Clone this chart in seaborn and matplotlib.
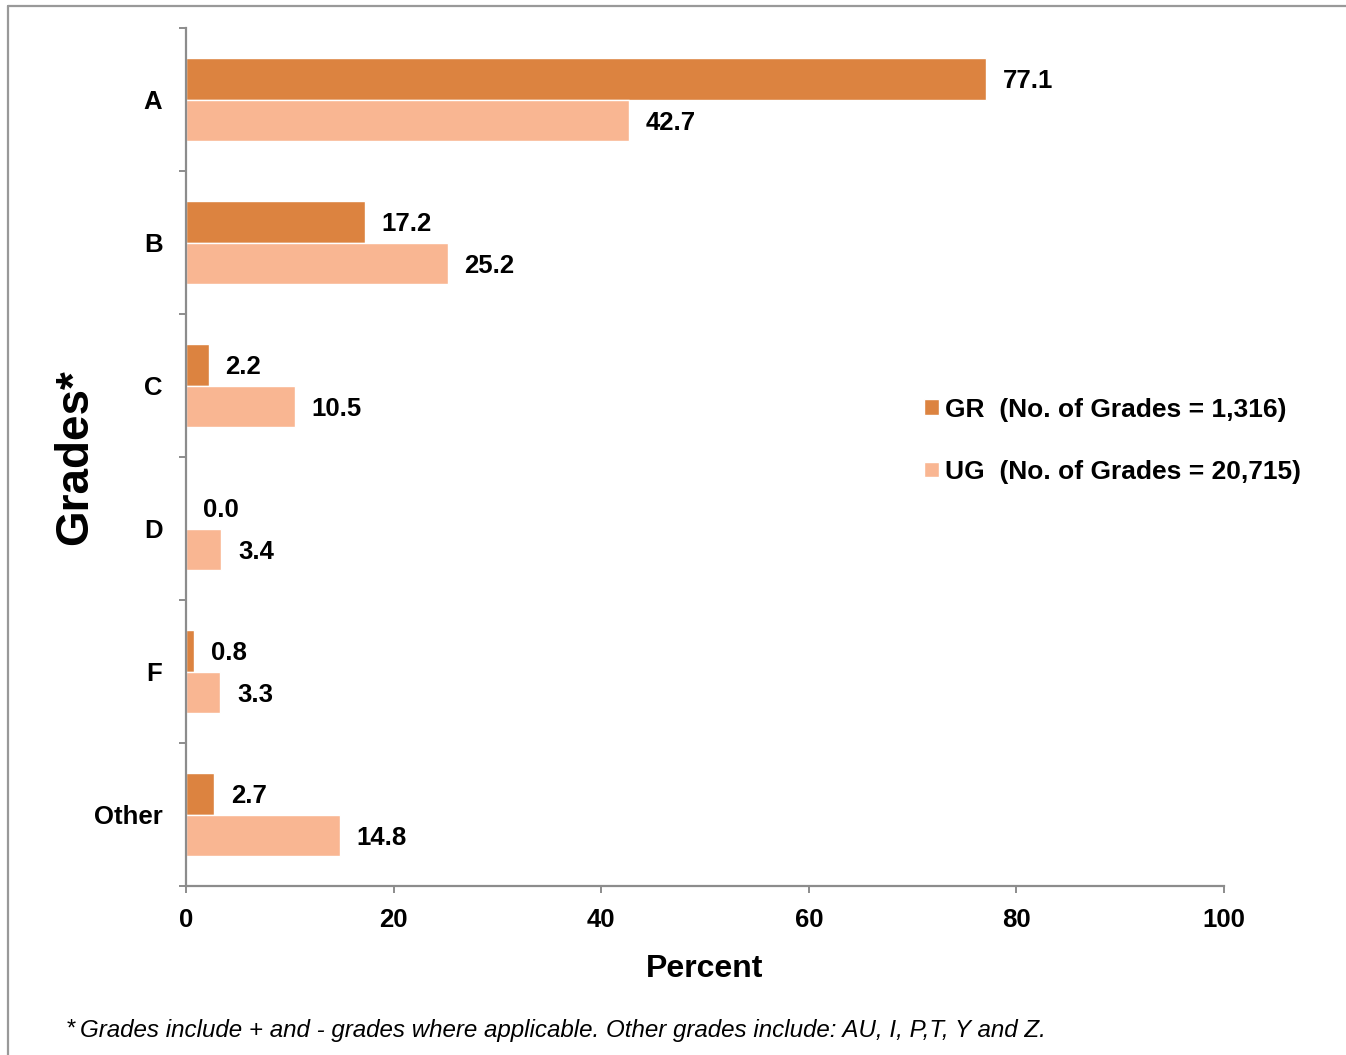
import matplotlib
matplotlib.use("Agg")
import matplotlib.pyplot as plt
from matplotlib.lines import Line2D
from matplotlib.ticker import FixedLocator, NullFormatter
import seaborn as sns
import pandas as pd

# data
grades = ['A', 'B', 'C', 'D', 'F', 'Other']
gr = [77.1, 17.2, 2.2, 0.0, 0.8, 2.7]
ug = [42.7, 25.2, 10.5, 3.4, 3.3, 14.8]
levels = ['GR', 'UG']
legend_labels = ['GR  (No. of Grades = 1,316)', 'UG  (No. of Grades = 20,715)']
colors = ['#DC8340', '#F9B692']

df = pd.DataFrame({
    'grade': grades * 2,
    'pct': gr + ug,
    'level': ['GR'] * len(grades) + ['UG'] * len(grades),
})

sns.set_style('white')
plt.rcParams['font.family'] = ['Liberation Sans', 'DejaVu Sans']
plt.rcParams['text.color'] = 'black'
plt.rcParams['axes.labelcolor'] = 'black'
plt.rcParams['xtick.labelcolor'] = 'black'
plt.rcParams['ytick.labelcolor'] = 'black'

fig = plt.figure(figsize=(13.46, 10.55), dpi=100)
ax = fig.add_axes([186 / 1346, 1 - 886 / 1055, (1224 - 186) / 1346, (886 - 28) / 1055])

sns.barplot(data=df, x='pct', y='grade', hue='level', hue_order=levels,
            order=grades, palette=colors, orient='h', width=0.574, gap=0,
            saturation=1, ax=ax, legend=True)

gray = '#8C8C8C'
for side in ['top', 'right']:
    ax.spines[side].set_visible(False)
for side in ['left', 'bottom']:
    ax.spines[side].set_color(gray)
    ax.spines[side].set_linewidth(1.6)

ax.set_xlim(0, 100)
ax.set_ylim(5.5, -0.5)
ax.set_xticks([0, 20, 40, 60, 80, 100])
ax.tick_params(axis='x', length=5, width=1.4, color=gray, pad=11,
               labelsize=18.5, labelcolor='black', direction='out', bottom=True)
for lab in ax.get_xticklabels():
    lab.set_fontweight('bold')

ax.yaxis.set_minor_locator(FixedLocator([i - 0.5 for i in range(len(grades) + 1)]))
ax.yaxis.set_minor_formatter(NullFormatter())
ax.tick_params(axis='y', which='minor', length=5, width=1.4, color=gray,
               direction='out', left=True)
ax.tick_params(axis='y', which='major', length=0, pad=17, labelsize=18.5,
               labelcolor='black')
for lab in ax.get_yticklabels():
    lab.set_fontweight('bold')

ax.set_xlabel('Percent', fontsize=23, fontweight='bold', labelpad=16, color='black')
ax.set_ylabel('Grades*', fontsize=33, fontweight='bold', color='black')
ax.yaxis.set_label_coords(-0.086, 0.5)

for cont in ax.containers:
    texts = ax.bar_label(cont, fmt='%.1f', padding=12, fontsize=18.5,
                         fontweight='bold', color='black')
    for t in texts:
        t.set_verticalalignment('center_baseline')

handles, _ = ax.get_legend_handles_labels()
ax.legend(handles, legend_labels, loc='center left', bbox_to_anchor=(0.711, 0.519),
          frameon=False, borderpad=0, borderaxespad=0, handlelength=0.55,
          handleheight=0.55, handletextpad=0.25, labelspacing=1.45,
          prop={'size': 19, 'weight': 'bold'})

# footnote
fig.text(67 / 1346, 1 - 1030 / 1055, '*', fontsize=17, va='center', ha='left')
fig.text(80 / 1346, 1 - 1030 / 1055,
         'Grades include + and - grades where applicable. Other grades include: AU, I, P,T, Y and Z.',
         fontsize=17.4, style='italic', va='center', ha='left')

# outer frame (top and left edges only visible)
fig.add_artist(Line2D([8 / 1346, 8 / 1346], [0, 1 - 6 / 1055], color='#999999', lw=1.6,
                      transform=fig.transFigure))
fig.add_artist(Line2D([8 / 1346, 1], [1 - 6 / 1055, 1 - 6 / 1055], color='#999999', lw=1.6,
                      transform=fig.transFigure))

fig.savefig('out.png', dpi=100)
